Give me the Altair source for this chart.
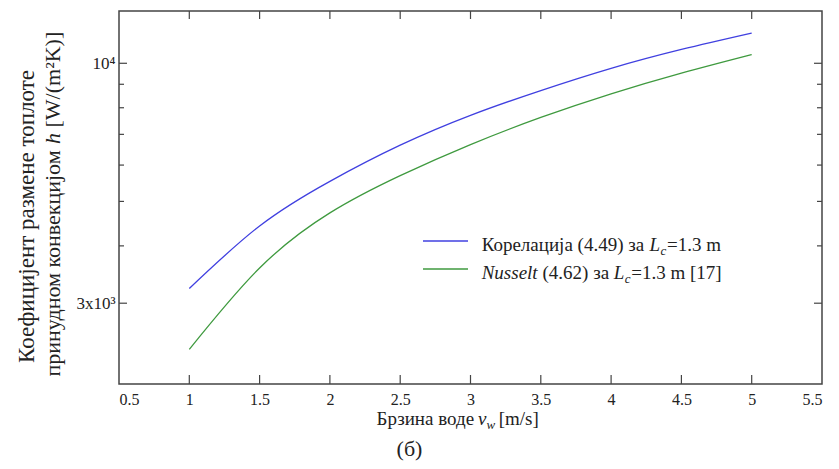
import altair as alt
import pandas as pd

# ---------------- data ----------------
velocity = [1.0, 1.5, 2.0, 2.5, 3.0, 3.5, 4.0, 4.5, 5.0]
h_correlation = [3230, 4420, 5530, 6630, 7700, 8720, 9750, 10720, 11640]
h_nusselt = [2380, 3580, 4720, 5690, 6650, 7620, 8580, 9520, 10450]
series_names = ["Корелација (4.49)", "Nusselt (4.62)"]
series_colors = ["#4040e0", "#3f9a3f"]

x_label_values = [0.5, 1, 1.5, 2, 2.5, 3, 3.5, 4, 4.5, 5, 5.5]
x_inner_ticks = [1, 1.5, 2, 2.5, 3, 3.5, 4, 4.5, 5]
y_major = [3000, 10000]
y_minor = [4000, 5000, 6000, 7000, 8000, 9000]

FONT = "Liberation Serif, Times New Roman, Tinos, DejaVu Serif, serif"
INK = "#222222"
FRAME = "#444444"
W, H = 703, 373

df = pd.DataFrame({
    "v": velocity * 2,
    "h": h_correlation + h_nusselt,
    "series": [series_names[0]] * len(velocity) + [series_names[1]] * len(velocity),
})

x_scale = alt.Scale(domain=[0.5, 5.5], nice=False, zero=False)
y_scale = alt.Scale(type="log", domain=[2000, 13000], nice=False)

x_axis = alt.Axis(values=x_label_values, format="~g", title=None, ticks=False,
                  domain=False, grid=False, labelFont=FONT, labelFontSize=16,
                  labelColor=INK, labelPadding=7)
y_axis = alt.Axis(values=y_major, title=None, ticks=False, domain=False, grid=False,
                  labelExpr="datum.value == 10000 ? '10⁴' : '3x10³'",
                  labelFont=FONT, labelFontSize=17, labelColor=INK, labelPadding=4)

lines = alt.Chart(df).mark_line(strokeWidth=1.3, interpolate="natural").encode(
    x=alt.X("v:Q", scale=x_scale, axis=x_axis),
    y=alt.Y("h:Q", scale=y_scale, axis=y_axis),
    color=alt.Color("series:N", scale=alt.Scale(domain=series_names, range=series_colors),
                    legend=None),
)


def vticks(values, top, length):
    d = pd.DataFrame({"v": values})
    y0 = 0 if top else H
    y1 = length if top else H - length
    return alt.Chart(d).mark_rule(color=FRAME, strokeWidth=1.2).encode(
        x=alt.X("v:Q", scale=x_scale, axis=x_axis), y=alt.value(y0), y2=alt.value(y1))


def hticks(values, right, length):
    d = pd.DataFrame({"h": values})
    x0 = W if right else 0
    x1 = W - length if right else length
    return alt.Chart(d).mark_rule(color=FRAME, strokeWidth=1.2).encode(
        y=alt.Y("h:Q", scale=y_scale, axis=y_axis), x=alt.value(x0), x2=alt.value(x1))


def label(text, x, y, size=18, italic=False, angle=0, align="left", baseline="alphabetic"):
    return alt.Chart(pd.DataFrame({"t": [text]})).mark_text(
        font=FONT, fontSize=size, fontStyle="italic" if italic else "normal",
        angle=angle, align=align, baseline=baseline, color=INK,
    ).encode(x=alt.value(x), y=alt.value(y), text="t:N")


def seg(color, y):
    return alt.Chart(pd.DataFrame({"a": [0]})).mark_rule(color=color, strokeWidth=1.3).encode(
        x=alt.value(304), x2=alt.value(349), y=alt.value(y))


LG = 19
layers = [
    lines,
    vticks(x_inner_ticks, False, 9), vticks(x_inner_ticks, True, 8),
    hticks(y_major, False, 8), hticks(y_minor, False, 5),
    hticks(y_major, True, 8), hticks(y_minor, True, 5),
    # legend
    seg(series_colors[0], 230), seg(series_colors[1], 258),
    label("Корелација (4.49) за", 362.7, 240, size=LG),
    label("L", 530.5, 240, size=LG, italic=True),
    label("c", 541.5, 244, size=13, italic=True),
    label("=1.3 m", 548, 240, size=LG),
    label("Nusselt", 362.7, 268, size=LG, italic=True),
    label("(4.62) за", 423.5, 268, size=LG),
    label("L", 494.8, 268, size=LG, italic=True),
    label("c", 505.8, 272, size=13, italic=True),
    label("=1.3 m [17]", 512.3, 268, size=LG),
    # x title
    label("Брзина воде", 257.5, 413.5, size=19),
    label("v", 359, 413.5, size=19, italic=True),
    label("w", 367.5, 417.5, size=13, italic=True),
    label("[m/s]", 379.7, 413.5, size=19),
    label("(б)", 290.5, 445, size=22, align="center"),
    # y title
    label("Коефицијент размене топлоте", -92, 205.5, size=23, angle=270,
          align="center", baseline="middle"),
    label("принудном конвекцијом", -66, 365.5, size=22, angle=270, baseline="middle"),
    label("h", -66, 133, size=22, italic=True, angle=270, baseline="middle"),
    label("[W/(m²K)]", -66, 116.5, size=22, angle=270, baseline="middle"),
]

chart = alt.layer(*layers).properties(
    width=W, height=H,
    padding={"left": 119, "top": 11, "right": 17, "bottom": 85},
    autosize=alt.AutoSizeParams(type="none"),
    background="white",
).configure_view(stroke=FRAME, strokeWidth=1.5)

chart.save("out.html", embed_options={"renderer": "svg", "actions": False})
